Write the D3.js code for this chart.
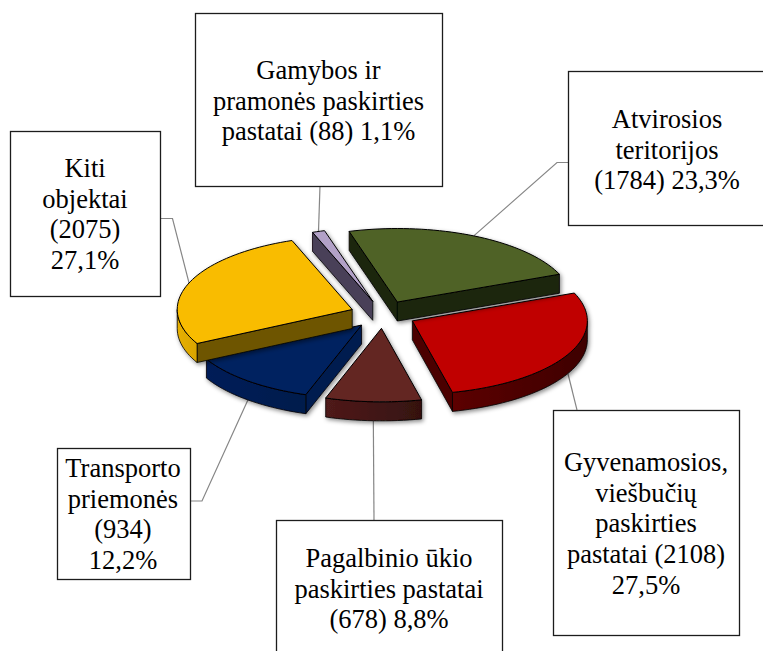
<!DOCTYPE html>
<html>
<head>
<meta charset="utf-8">
<script src="https://cdn.jsdelivr.net/npm/d3@7"></script>
<style>
  html, body { margin: 0; padding: 0; background: #fff; overflow: hidden; }
  text { font-family: "Liberation Serif", serif; font-size: 26.5px; fill: #000; text-anchor: middle; }
</style>
</head>
<body>
<div id="chart"></div>
<script>
// values in pie order, clockwise from the top
const counts = [1784, 2108, 678, 934, 2075, 88];
const labelLines = [
  ["Atvirosios", "teritorijos", "(1784) 23,3%"],
  ["Gyvenamosios,", "viešbučių", "paskirties", "pastatai (2108)", "27,5%"],
  ["Pagalbinio ūkio", "paskirties pastatai", "(678) 8,8%"],
  ["Transporto", "priemonės", "(934)", "12,2%"],
  ["Kiti", "objektai", "(2075)", "27,1%"],
  ["Gamybos ir", "pramonės paskirties", "pastatai (88) 1,1%"]
];
const topColors = ["#4f6228", "#c00000", "#632523", "#002060", "#f9bc00", "#b2a1c7"];
const wallColors = ["#1d2710", "#4c0000", "#3c1312", "#001a50", "#6e5500", "#494158"];
const arcWallColors = [
  ["#1d2710", "#1d2710"], ["#5c0000", "#3e0000"], ["#4f1a1a", "#351110"],
  ["#001c58", "#001a4c"], ["#e8b000", "#d8a400"], ["#494158", "#494158"]
];

// box layout: x, y, w, h, centre of text, first baseline
const boxes = [
  [568, 71, 210, 154, 667, 128],
  [553, 410, 186, 225, 646, 471],
  [276, 520, 226, 150, 389, 567],
  [57, 448, 133, 131, 123, 477],
  [10, 131, 150, 165, 85, 177],
  [195, 13, 247, 173, 318.5, 79]
];
// bend of each leader line, then where it meets the box
const leaderBends = [
  [[557, 162.5], [568, 162.5]],
  [[577, 410]],
  [[374, 520]],
  [[202, 501], [190, 501]],
  [[172.5, 218.5], [160, 218.5]],
  [[320, 186]]
];
const drawOrder = [1, 3, 2, 5, 4, 0];

const width = 763, height = 651;
const cx = 383, cy = 314.5, radius = 175, tilt = 0.42, depth = 19, explode = 33;
const lineHeight = 30.7;
const rad = Math.PI / 180;

const svg = d3.select("#chart").append("svg")
  .attr("width", width)
  .attr("height", height)
  .style("display", "block");

const defs = svg.append("defs");
const shadow = defs.append("filter")
  .attr("id", "shadow")
  .attr("x", "-20%").attr("y", "-20%")
  .attr("width", "140%").attr("height", "140%");
shadow.append("feDropShadow")
  .attr("dx", 1.5).attr("dy", 2)
  .attr("stdDeviation", 2)
  .attr("flood-color", "#000")
  .attr("flood-opacity", 0.45);

arcWallColors.forEach((c, i) => {
  const g = defs.append("linearGradient").attr("id", "arcwall" + i);
  g.append("stop").attr("offset", "0%").attr("stop-color", c[0]);
  g.append("stop").attr("offset", "100%").attr("stop-color", c[1]);
});

const pie = d3.pie().sort(null).startAngle(-16 * rad).endAngle(344 * rad);
const arcs = pie(counts);

// flat pie seen at an angle
const project = (a, r) => [r * Math.sin(a), -tilt * r * Math.cos(a)];
const apexOf = d => {
  const [dx, dy] = project((d.startAngle + d.endAngle) / 2, explode);
  return [cx + dx, cy + dy];
};
const line = d3.line();

function arcPoints(a0, a1, apex, z) {
  const steps = Math.max(2, Math.ceil((a1 - a0) / (2 * rad)));
  return d3.range(steps + 1).map(i => {
    const p = project(a0 + (a1 - a0) * i / steps, radius);
    return [apex[0] + p[0], apex[1] + p[1] + z];
  });
}

// leader lines go under the slices
arcs.forEach((d, i) => {
  const apex = apexOf(d);
  const p = project((d.startAngle + d.endAngle) / 2, radius);
  // front slices leave from the lower rim
  const front = Math.cos((d.startAngle + d.endAngle) / 2) < 0 && i < 4;
  const start = [apex[0] + p[0], apex[1] + p[1] + (front ? depth : 0)];
  svg.append("path")
    .attr("d", line([start, ...leaderBends[i]]))
    .attr("fill", "none")
    .attr("stroke", "#868686")
    .attr("stroke-width", 1.2);
});

// slices
drawOrder.forEach(i => {
  const d = arcs[i];
  const apex = apexOf(d);
  const a0 = d.startAngle, a1 = d.endAngle;
  const g = svg.append("g").attr("filter", "url(#shadow)");

  const wall = a => {
    const p = project(a, radius);
    const tip = [apex[0] + p[0], apex[1] + p[1]];
    g.append("path")
      .attr("d", line([apex, tip, [tip[0], tip[1] + depth], [apex[0], apex[1] + depth]]) + "Z")
      .attr("fill", wallColors[i])
      .attr("stroke", "#000")
      .attr("stroke-width", 0.8)
      .attr("stroke-linejoin", "round");
  };
  if (Math.sin(a0) < 0) wall(a0);
  if (Math.sin(a1) > 0) wall(a1);

  // outer rim, only the part that faces front
  const from = Math.max(a0, 90 * rad), to = Math.min(a1, 270 * rad);
  if (to > from) {
    const upper = arcPoints(from, to, apex, 0);
    const lower = arcPoints(from, to, apex, depth).reverse();
    g.append("path")
      .attr("d", line(upper.concat(lower)) + "Z")
      .attr("fill", `url(#arcwall${i})`)
      .attr("stroke", "#000")
      .attr("stroke-width", 0.8)
      .attr("stroke-linejoin", "round");
  }

  g.append("path")
    .attr("d", line([apex, ...arcPoints(a0, a1, apex, 0)]) + "Z")
    .attr("fill", topColors[i])
    .attr("stroke", "#000")
    .attr("stroke-width", 1)
    .attr("stroke-linejoin", "round");
});

// label boxes
boxes.forEach((b, i) => {
  svg.append("rect")
    .attr("x", b[0] + 0.5).attr("y", b[1] + 0.5)
    .attr("width", b[2]).attr("height", b[3])
    .attr("fill", "#fff")
    .attr("stroke", "#1c1c1c")
    .attr("stroke-width", 1.3);
  labelLines[i].forEach((t, j) => {
    svg.append("text")
      .attr("x", b[4])
      .attr("y", b[5] + j * lineHeight)
      .text(t);
  });
});
</script>
</body>
</html>
